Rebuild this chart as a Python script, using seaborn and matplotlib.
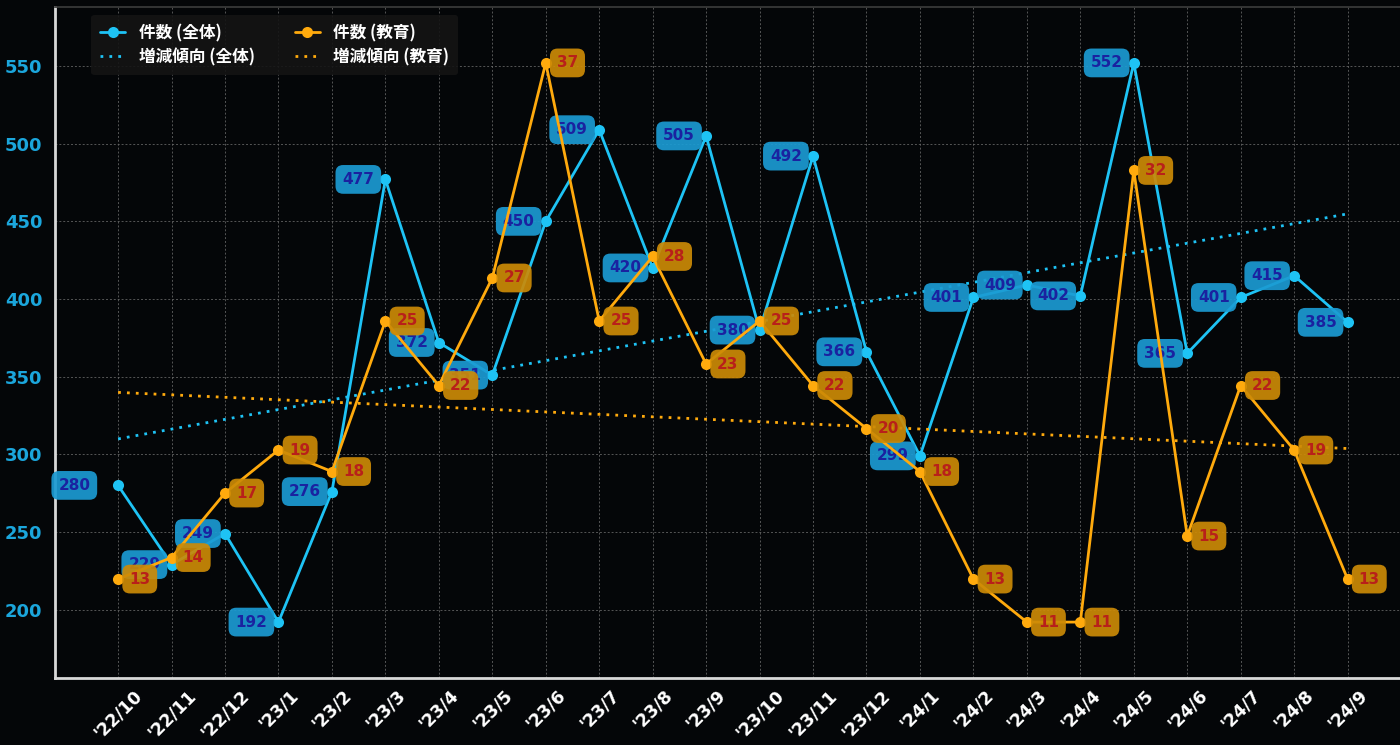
import numpy as np
import pandas as pd
import matplotlib.pyplot as plt
import seaborn as sns

sns.set_theme(style="dark")
plt.rcParams["font.family"] = ["DejaVu Sans", "Noto Sans CJK JP"]

# ── Data ────────────────────────────────────────────────────────────────────
months = ["'22/10", "'22/11", "'22/12", "'23/1", "'23/2", "'23/3", "'23/4",
          "'23/5", "'23/6", "'23/7", "'23/8", "'23/9", "'23/10", "'23/11",
          "'23/12", "'24/1", "'24/2", "'24/3", "'24/4", "'24/5", "'24/6",
          "'24/7", "'24/8", "'24/9"]
total = [280, 229, 249, 192, 276, 477, 372, 351, 450, 509, 420, 505,
         380, 492, 366, 299, 401, 409, 402, 552, 365, 401, 415, 385]
edu = [13, 14, 17, 19, 18, 25, 22, 27, 37, 25, 28, 23,
       25, 22, 20, 18, 13, 11, 11, 32, 15, 22, 19, 13]

df = pd.DataFrame({"idx": range(len(months)), "month": months,
                   "total": total, "edu": edu})

BLUE = "#1ec3f5"
ORANGE = "#ffaa0d"
BG = "#040608"

fig = plt.figure(figsize=(14, 7.45), dpi=100, facecolor=BG)
ax = fig.add_axes([55 / 1400, 67 / 745, 1 - 55 / 1400, 671 / 745])
ax.set_facecolor(BG)

# ── Blue series (left axis) ────────────────────────────────────────────────
sns.lineplot(data=df, x="idx", y="total", ax=ax, color=BLUE, lw=2,
             marker="o", markersize=8, markeredgewidth=0, label="件数 (全体)",
             legend=False, zorder=3)
sns.regplot(data=df, x="idx", y="total", ax=ax, scatter=False, ci=None,
            truncate=True, color=BLUE, label="増減傾向 (全体)",
            line_kws={"ls": (0, (1, 2.2)), "lw": 2, "zorder": 2})

ylo, yhi = 156, 588
ax.set_ylim(ylo, yhi)
ax.set_xlim(-1.18, 23.98)
ax.set_yticks(range(200, 551, 50))
ax.set_xticks(df["idx"])
ax.set_xticklabels(months, rotation=45, ha="center")
ax.set_xlabel("")
ax.set_ylabel("")
ax.tick_params(axis="y", colors="#1ba6dc", labelsize=13, pad=9, length=0)
ax.tick_params(axis="x", colors="white", labelsize=12.5, pad=6, length=0)
for lab in ax.get_yticklabels() + ax.get_xticklabels():
    lab.set_fontweight("bold")
ax.grid(True, color="#6a6a6a", ls=(0, (2, 2)), lw=0.7, alpha=0.8)
for s in ["left", "bottom"]:
    ax.spines[s].set_color("#d8d8d8")
    ax.spines[s].set_linewidth(2)
ax.spines["top"].set_color("#3a3a3a")
ax.spines["right"].set_visible(False)

# ── Orange series (twin axis aligned so 11 -> 192, 37 -> 552) ─────────────
ax2 = ax.twinx()
k = (552 - 192) / (37 - 11)
ax2.set_ylim(11 + (ylo - 192) / k, 11 + (yhi - 192) / k)
sns.lineplot(data=df, x="idx", y="edu", ax=ax2, color=ORANGE, lw=2,
             marker="o", markersize=8, markeredgewidth=0, label="件数 (教育)",
             legend=False, zorder=3)
sns.regplot(data=df, x="idx", y="edu", ax=ax2, scatter=False, ci=None,
            truncate=True, color=ORANGE, label="増減傾向 (教育)",
            line_kws={"ls": (0, (1, 2.2)), "lw": 2, "zorder": 2})
ax2.set_yticks([])
ax2.set_ylabel("")
for s in ax2.spines.values():
    s.set_visible(False)

# ── Value labels ───────────────────────────────────────────────────────────
for i, v in enumerate(total):
    dx = -20 if i == 0 else -8
    ax.annotate(str(v), (i, v), xytext=(dx, 0), textcoords="offset points",
                ha="right", va="center", fontsize=11, fontweight="bold",
                color="#1a22a0", zorder=4,
                bbox=dict(boxstyle="round,pad=0.45,rounding_size=0.5",
                          fc="#1b9bd3", ec="none", alpha=0.92))
for i, v in enumerate(edu):
    ax2.annotate(str(v), (i, v), xytext=(8, 0), textcoords="offset points",
                 ha="left", va="center", fontsize=11, fontweight="bold",
                 color="#b8201a", zorder=4,
                 bbox=dict(boxstyle="round,pad=0.45,rounding_size=0.5",
                           fc="#cc8a06", ec="none", alpha=0.92))

# ── Legend ─────────────────────────────────────────────────────────────────
h1, l1 = ax.get_legend_handles_labels()
h2, l2 = ax2.get_legend_handles_labels()
leg = ax2.legend(h1 + h2, l1 + l2, ncol=2, loc="upper left",
                 bbox_to_anchor=(0.027, 0.988), borderaxespad=0,
                 frameon=True, facecolor="#141414", edgecolor="none",
                 framealpha=0.9, handlelength=1.5, columnspacing=2.4,
                 labelspacing=0.35, borderpad=0.55,
                 prop={"size": 12, "weight": "bold",
                       "family": ["Noto Sans CJK JP", "DejaVu Sans"]})
for t in leg.get_texts():
    t.set_color("white")

fig.savefig("out.png", dpi=100, facecolor=BG)
